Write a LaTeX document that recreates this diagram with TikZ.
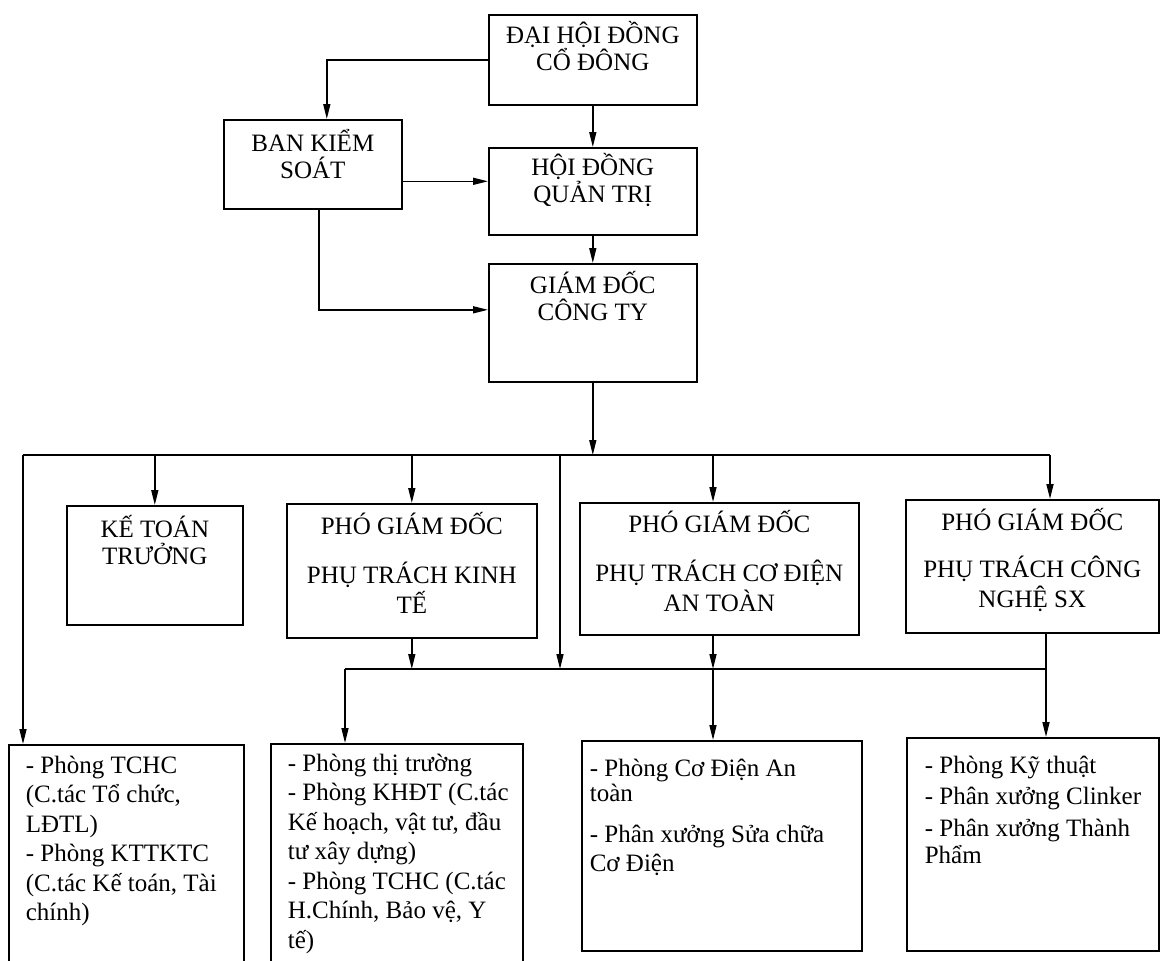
\documentclass[tikz,border=0pt]{standalone}
\usepackage{fontspec}
\setmainfont{Liberation Serif}
\usetikzlibrary{arrows.meta, positioning}

\begin{document}
\begin{tikzpicture}[
    x=1pt, y=-1pt,
    line width=1.6pt,
    box/.style={draw, rectangle, inner sep=0pt, anchor=north west},
    head/.style={inner sep=0pt, align=center, font=\fontsize{25}{27}\selectfont, execute at begin node={\rule{0pt}{25pt}}},
    vice/.style={head, font=\fontsize{25}{30}\selectfont},
    unit/.style={inner sep=0pt, align=left, font=\fontsize{25}{29.5}\selectfont, execute at begin node={\rule{0pt}{25pt}}},
    arr/.style={-{Triangle[length=15pt, width=7pt]}}
]
\useasboundingbox (0,0) rectangle (1162,961);

   % Boxes
   \node[box, minimum width=208pt, minimum height=90pt] (dh) at (488,14) {};
   \node[box, minimum width=178pt, minimum height=89pt] (bks) at (223,119) {};
   \node[box, minimum width=208pt, minimum height=87pt] (hd) at (488,147) {};
   \node[box, minimum width=208pt, minimum height=118pt] (gd) at (488,263) {};
   \node[box, minimum width=176pt, minimum height=119pt] (kt) at (66,505) {};
   \node[box, minimum width=250pt, minimum height=134pt] (pkt) at (286,503) {};
   \node[box, minimum width=279pt, minimum height=132pt] (pcd) at (579,502) {};
   \node[box, minimum width=253pt, minimum height=133pt] (pcn) at (905,499) {};
   \node[box, minimum width=235pt, minimum height=240pt] (b1) at (8,744) {};
   \node[box, minimum width=252pt, minimum height=240pt] (b2) at (270,743) {};
   \node[box, minimum width=280pt, minimum height=210pt] (b3) at (581,740) {};
   \node[box, minimum width=252pt, minimum height=213pt] (b4) at (906,737) {};

   % Texts
   \node[head, below=7pt of dh.north] (dh-t) {ĐẠI HỘI ĐỒNG\\CỔ ĐÔNG};
   \node[head, below=10pt of bks.north] (bks-t) {BAN KIỂM\\SOÁT};
   \node[head, below=6pt of hd.north] (hd-t) {HỘI ĐỒNG\\QUẢN TRỊ};
   \node[head, below=8pt of gd.north] (gd-t) {GIÁM ĐỐC\\CÔNG TY};
   \node[head, below=10pt of kt.north] (kt-t) {KẾ TOÁN\\TRƯỞNG};
   \node[vice, below=9pt of pkt.north] (pkt-t) {PHÓ GIÁM ĐỐC\\[19pt]PHỤ TRÁCH KINH\\TẾ};
   \node[vice, below=8pt of pcd.north] (pcd-t) {PHÓ GIÁM ĐỐC\\[19pt]PHỤ TRÁCH CƠ ĐIỆN\\AN TOÀN};
   \node[vice, below=9pt of pcn.north] (pcn-t) {PHÓ GIÁM ĐỐC\\[17pt]PHỤ TRÁCH CÔNG\\NGHỆ SX};
   \node[unit, below right=11pt and 17pt of b1.north west] (b1-t) {- Phòng TCHC\\(C.tác Tổ chức,\\LĐTL)\\- Phòng KTTKTC\\(C.tác Kế toán, Tài\\chính)};
   \node[unit, below right=10pt and 17pt of b2.north west] (b2-t) {- Phòng thị trường\\- Phòng KHĐT (C.tác\\Kế hoạch, vật tư, đầu\\tư xây dựng)\\- Phòng TCHC (C.tác\\H.Chính, Bảo vệ, Y\\tế)};
   \node[unit, below right=18pt and 8pt of b3.north west] (b3-t) {- Phòng Cơ Điện An\\[-4pt]toàn\\[11pt]- Phân xưởng Sửa chữa\\Cơ Điện};
   \node[unit, below right=18pt and 18pt of b4.north west] (b4-t) {- Phòng Kỹ thuật\\[2pt]- Phân xưởng Clinker\\[2pt]- Phân xưởng Thành\\[-2pt]Phẩm};

   % Bus points
   \coordinate (bksR) at ([yshift=-17pt]bks.east);
   \coordinate (bksB) at ([xshift=6pt]bks.south);
   \coordinate (gdL) at ([yshift=13pt]gd.west);
   \coordinate (busL) at (23,455);
   \coordinate (busR) at (1050,455);
   \coordinate (midT) at (560,455);
   \coordinate (cdT) at (713,455);
   \coordinate (lowL) at (345,669);
   \coordinate (lowR) at (1046,669);

   % Top connectors
   \draw[arr] (dh.south) -- (hd.north);
   \draw[arr] (hd.south) -- (gd.north);
   \draw[arr] (dh.west) -| ([xshift=14pt]bks.north);
   \draw[arr] (bksR) -- (bksR -| hd.west);
   \draw[arr] (bksB) |- (gdL);

   % Upper bus
   \draw[arr] (gd.south) -- (gd.south |- busL);
   \draw (busL) -- (busR);
   \draw[arr] (busL) -- (busL |- b1.north);
   \draw[arr] (kt.north |- busL) -- (kt.north);
   \draw[arr] (pkt.north |- busL) -- (pkt.north);
   \draw[arr] (midT) -- (midT |- lowL);
   \draw[arr] (cdT) -- (cdT |- pcd.north);
   \draw[arr] (busR) -- (busR |- pcn.north);

   % Lower bus
   \draw (lowL) -- (lowR);
   \draw[arr] (pkt.south) -- (pkt.south |- lowL);
   \draw[arr] (cdT |- pcd.south) -- (cdT |- lowL);
   \draw[arr] (cdT |- lowL) -- (cdT |- b3.north);
   \draw[arr] (lowL) -- (lowL |- b2.north);
   \draw[arr] (lowR |- pcn.south) -- (lowR |- b4.north);
\end{tikzpicture}
\end{document}
